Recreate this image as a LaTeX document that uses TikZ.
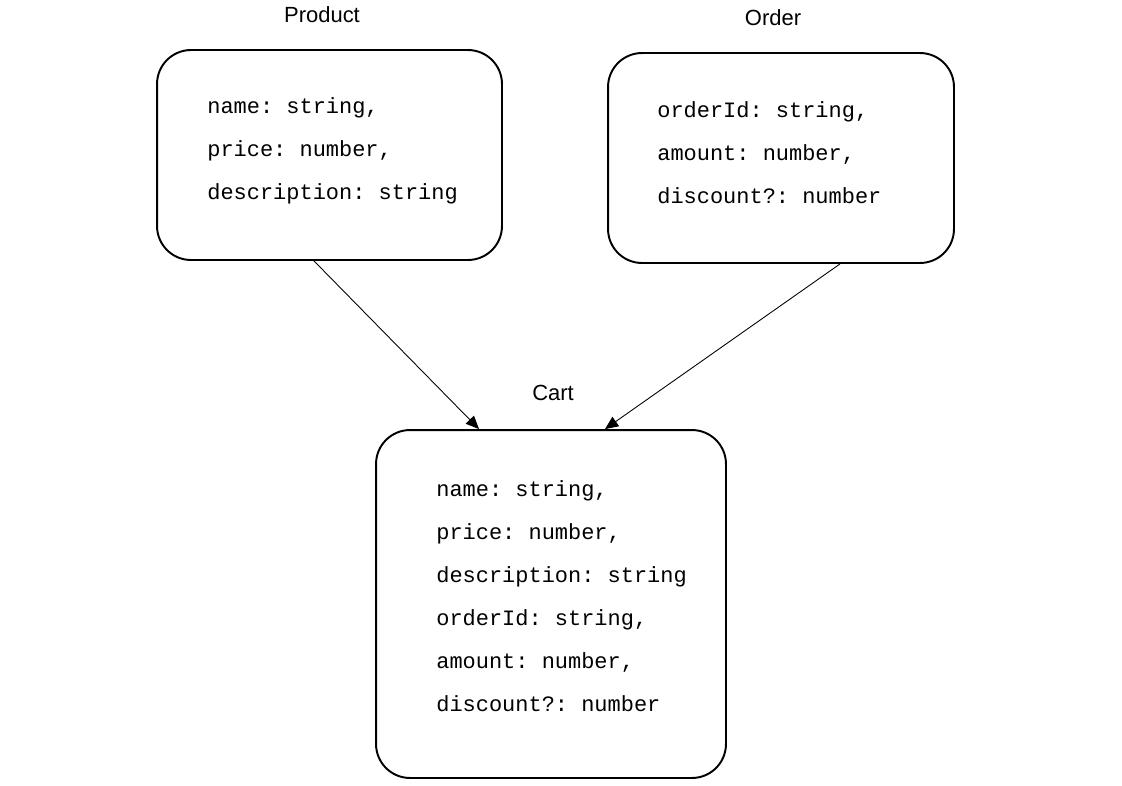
\documentclass[tikz,border=0pt]{standalone}
\usepackage{fontspec}
\setmainfont{Liberation Sans}
\setmonofont{Liberation Mono}
\usetikzlibrary{arrows.meta,positioning}

\begin{document}
\begin{tikzpicture}[x=0.02cm,y=-0.02cm,
        box/.style={draw=black, line width=1.1pt, rounded corners=0.68cm, inner sep=0pt},
        fields/.style={anchor=west, align=left, inner sep=0pt, font=\ttfamily\fontsize{12.5}{24.5}\selectfont},
        title/.style={font=\fontsize{12.5}{15}\selectfont},
        link/.style={line width=0.5pt, -{Triangle[length=7.5pt,width=6.5pt]}}]
        \useasboundingbox (0,0) rectangle (1122,785);
        % type boxes
        \node[box, minimum width=6.9cm, minimum height=4.2cm] (product) at (329.5,155) {};
        \node[box, minimum width=6.92cm, minimum height=4.2cm] (order) at (781,158) {};
        \node[box, minimum width=7cm, minimum height=6.96cm] (cart) at (551,604) {};
        \node[title] (product label) at (322,15) {Product};
        \node[title] (order label) at (773,18) {Order};
        \node[title] (cart label) at (553,393) {Cart};
        % fields
        \node[fields] (product fields) at (207,151) {name: string,\\price: number,\\description: string};
        \node[fields] (order fields) at (657,153) {orderId: string,\\amount: number,\\discount?: number};
        \node[fields] (cart fields) at (436,596) {name: string,\\price: number,\\description: string\\orderId: string,\\amount: number,\\discount?: number};
        \draw[link] ([xshift=-0.31cm]product.south) -- ([xshift=-1.44cm]cart.north);
        \draw[link] ([xshift=1.18cm]order.south) -- ([xshift=1.08cm]cart.north);
      \end{tikzpicture}
\end{document}
